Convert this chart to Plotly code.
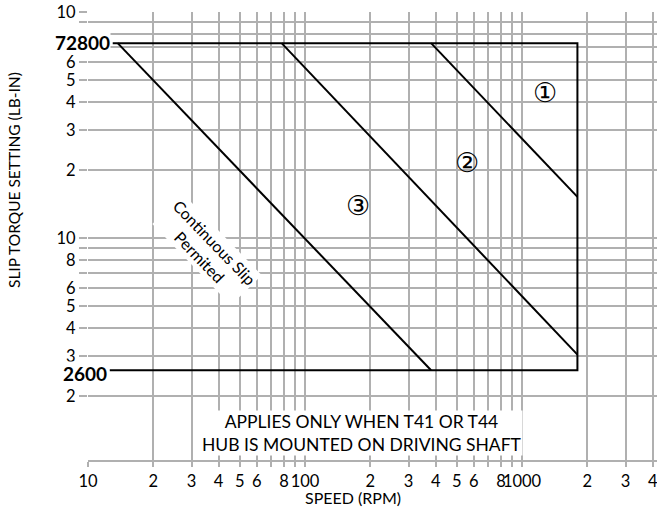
import math
import plotly.graph_objects as go

# ---- data ----
x_tick_vals = [10, 20, 30, 40, 50, 60, 70, 80, 90, 100, 200, 300, 400, 500, 600, 700, 800, 900, 1000, 2000, 3000, 4000]
x_tick_text = ["10", "2", "3", "4", "5", "6", "", "8", "", "100", "2", "3", "4", "5", "6", "", "8", "", "1000", "2", "3", "4"]
y_tick_vals = [2000, 3000, 4000, 5000, 6000, 7000, 8000, 9000, 10000,
               20000, 30000, 40000, 50000, 60000, 70000, 80000, 90000, 100000]
y_tick_text = ["2", "3", "4", "5", "6", "", "8", "", "10",
               "2", "3", "4", "5", "6", "", "", "", "10"]

# envelope (max torque 72800, min torque 2600, max speed 1800)
envelope_speed = [13.0, 1800, 1800, 12.6]
envelope_torque = [72800, 72800, 2600, 2600]
# zone boundaries
curve3_speed = [13.7, 381]
curve3_torque = [72800, 2600]
curve2_speed = [78, 1800]
curve2_torque = [72800, 3050]
curve1_speed = [381, 1800]
curve1_torque = [72800, 15200]

FONT = "Lato, 'Open Sans', sans-serif"
GRID = "#b0b0b0"

fig = go.Figure()
for xs, ys in [(envelope_speed, envelope_torque), (curve3_speed, curve3_torque),
               (curve2_speed, curve2_torque), (curve1_speed, curve1_torque)]:
    fig.add_trace(go.Scatter(x=xs, y=ys, mode="lines",
                             line=dict(color="black", width=2),
                             showlegend=False, hoverinfo="skip"))

fig.update_xaxes(type="log", range=[1, 3.622], tickvals=x_tick_vals, ticktext=x_tick_text,
                 tickangle=0, automargin=False, ticklabeloverflow="allow",
                 showgrid=True, gridcolor=GRID, gridwidth=2,
                 ticks="outside", ticklen=5, tickwidth=2, tickcolor=GRID,
                 showline=True, linecolor=GRID, linewidth=2,
                 tickfont=dict(family=FONT, size=16.5, color="black"), zeroline=False)
fig.update_yaxes(type="log", range=[3.018, 5], tickvals=y_tick_vals, ticktext=y_tick_text,
                 automargin=False,
                 showgrid=True, gridcolor=GRID, gridwidth=2,
                 ticks="outside", ticklen=8, tickwidth=2, tickcolor=GRID,
                 showline=False,
                 tickfont=dict(family=FONT, size=16.5, color="black"), zeroline=False)


def note(**kw):
    base = dict(showarrow=False, xanchor="center", yanchor="middle")
    base.update(kw)
    return base


ann = []
ann.append(note(xref="x", yref="y", x=math.log10(12.75), y=math.log10(72800), text="<b>72800</b>",
                xanchor="right", bgcolor="white", borderpad=0, yshift=1,
                font=dict(family=FONT, size=19, color="black")))
ann.append(note(xref="x", yref="y", x=math.log10(12.4), y=math.log10(2600), text="<b>2600</b>",
                xanchor="right", bgcolor="white", borderpad=0, yshift=-3,
                font=dict(family=FONT, size=19, color="black")))
ann.append(note(xref="paper", yref="paper", x=0.4815, y=0.06,
                text="APPLIES ONLY WHEN T41 OR T44<br>HUB IS MOUNTED ON DRIVING SHAFT",
                bgcolor="white", borderpad=0, align="center",
                font=dict(family=FONT, size=17.5, color="black")))
ann.append(note(xref="paper", yref="paper", x=0.21, y=0.469, text="Continuous Slip<br>Permited",
                textangle=46, bgcolor="white", borderpad=1, align="center",
                font=dict(family=FONT, size=16, color="black")))
for txt, px, py in [("①", 0.803, 0.821), ("②", 0.666, 0.663), ("③", 0.4745, 0.567)]:
    ann.append(note(xref="paper", yref="paper", x=px, y=py, text=txt,
                    font=dict(family="'DejaVu Sans', 'Noto Sans CJK JP'", size=27, color="black")))
ann.append(note(xref="paper", yref="paper", x=-0.13, y=0.625, text="SLIP TORQUE SETTING (LB-IN)",
                textangle=-90, font=dict(family=FONT, size=15.5, color="black")))
ann.append(note(xref="paper", yref="paper", x=0.466, y=-0.083, text="SPEED (RPM)",
                font=dict(family=FONT, size=16, color="black")))

fig.update_layout(width=657, height=512, margin=dict(l=88, r=0, t=12, b=52),
                  plot_bgcolor="white", paper_bgcolor="white", annotations=ann,
                  showlegend=False)
fig.write_html("out.html", config={"displayModeBar": False},
               post_script="document.body.style.margin='0px';")
